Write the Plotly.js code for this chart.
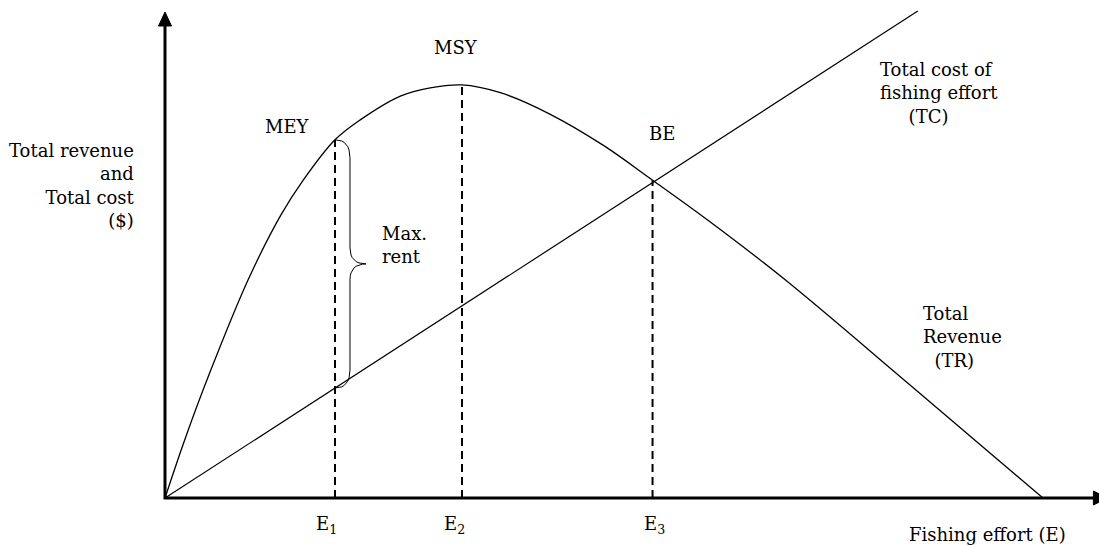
<!DOCTYPE html>
<html>
<head>
<meta charset="utf-8">
<script src="https://cdn.plot.ly/plotly-3.0.1.min.js"></script>
<style>
  html, body { margin: 0; padding: 0; background: #fff; }
  #chart { width: 1099px; height: 546px; }
</style>
</head>
<body>
<div id="chart"></div>
<script>
// Total revenue curve, effort and $ in 0-100 units
let effort = [0, 2.1, 4.8, 8.9, 12.4, 14.8, 18.2, 20.9, 25.2, 28.4, 31.8, 35.9, 41.2, 46.9, 52.2, 58.1, 66.4, 79.8, 94.0];
let revenue = [0, 11.9, 25.8, 44.9, 58.2, 65.4, 73.7, 77.8, 82.7, 84.4, 85.0, 83.4, 79.0, 72.6, 65.4, 57.2, 44.9, 23.2, 0];

// Total cost line
let costEffort = [0, 80.6];
let cost = [0, 100.2];

// Effort levels marked on the x axis: MEY, MSY, BE
let markEffort = [18.2, 31.8, 52.2];
let markLabels = ['E<sub>1</sub>', 'E<sub>2</sub>', 'E<sub>3</sub>'];
let markShift = [-8, -8, 2];

var W = 1099, H = 546;
var FONT = { family: 'DejaVu Serif, Georgia, serif', size: 18, color: '#000' };
// pixels per unit on each axis; origin sits at (165, 498) px
var PX_X = 934 / 100, PX_Y = 486 / 100;
var ORIGIN_X = 165, ORIGIN_Y = 498;

function revenueAt(e) {
    return revenue[effort.indexOf(e)];
}
function costAt(e) {
    return cost[0] + (cost[1] - cost[0]) * (e - costEffort[0]) / (costEffort[1] - costEffort[0]);
}

// sample a quadratic bezier into xs/ys
function quad(xs, ys, p0, p1, p2) {
    for (let t = 0; t <= 1.0001; t += 0.125) {
        let a = (1 - t) * (1 - t), b = 2 * (1 - t) * t, c = t * t;
        xs.push(a * p0[0] + b * p1[0] + c * p2[0]);
        ys.push(a * p0[1] + b * p1[1] + c * p2[1]);
    }
}

var data = [];

// Revenue curve
data.push({
    x: effort,
    y: revenue,
    mode: 'lines',
    type: 'scatter',
    line: { color: '#000', width: 1.3, shape: 'spline', smoothing: 1 },
    hoverinfo: 'skip'
});

// Cost line
data.push({
    x: costEffort,
    y: cost,
    mode: 'lines',
    type: 'scatter',
    line: { color: '#000', width: 1.2 },
    hoverinfo: 'skip'
});

// Dashed drop lines
markEffort.forEach(function (e) {
    data.push({
        x: [e, e],
        y: [0, revenueAt(e)],
        mode: 'lines',
        type: 'scatter',
        line: { color: '#000', width: 2, dash: '8px,5px' },
        hoverinfo: 'skip'
    });
});

// Brace for the maximum rent, between TR and TC at E1
var e1 = markEffort[0];
var yTop = revenueAt(e1);
var yBot = costAt(e1);
var yMid = (yTop + yBot) / 2;
var bx = e1 + 15 / PX_X, tx = e1 + 31 / PX_X;
var r = 18 / PX_Y, rt = 16 / PX_Y;
var braceX = [], braceY = [];
quad(braceX, braceY, [e1, yTop], [bx, yTop], [bx, yTop - r]);
quad(braceX, braceY, [bx, yMid + rt], [bx, yMid], [tx, yMid]);
quad(braceX, braceY, [tx, yMid], [bx, yMid], [bx, yMid - rt]);
quad(braceX, braceY, [bx, yBot + r], [bx, yBot], [e1, yBot]);
data.push({
    x: braceX,
    y: braceY,
    mode: 'lines',
    type: 'scatter',
    line: { color: '#000', width: 1 },
    hoverinfo: 'skip'
});

// Axes with arrow heads
var yTip = (ORIGIN_Y - 12) / PX_Y;
var xEnd = 99.4;
data.push({
    x: [0, 0, xEnd],
    y: [yTip - 14 / PX_Y, 0, 0],
    mode: 'lines',
    type: 'scatter',
    line: { color: '#000', width: 3 },
    hoverinfo: 'skip'
});
data.push({
    x: [-6.5 / PX_X, 6.5 / PX_X, 0, -6.5 / PX_X],
    y: [yTip - 14 / PX_Y, yTip - 14 / PX_Y, yTip, yTip - 14 / PX_Y],
    mode: 'lines',
    type: 'scatter',
    fill: 'toself',
    fillcolor: '#000',
    line: { color: '#000', width: 1 },
    hoverinfo: 'skip'
});
data.push({
    x: [xEnd, xEnd, xEnd + 14 / PX_X, xEnd],
    y: [-7 / PX_Y, 7 / PX_Y, 0, -7 / PX_Y],
    mode: 'lines',
    type: 'scatter',
    fill: 'toself',
    fillcolor: '#000',
    line: { color: '#000', width: 1 },
    hoverinfo: 'skip'
});

var annotations = [
    { x: -3.0, y: 64.4, xanchor: 'right', align: 'right',
      text: 'Total revenue<br>and<br>Total cost<br>($)' },
    { x: 13.1, y: 76.5, text: 'MEY' },
    { x: 31.2, y: 92.6, text: 'MSY' },
    { x: 53.2, y: 75.1, text: 'BE' },
    { x: 23.0, y: 52.1, xanchor: 'left', align: 'left', text: 'Max.<br>rent' },
    { x: 76.3, y: 83.3, xanchor: 'left', align: 'left',
      text: 'Total cost of<br>fishing effort<br>&nbsp;&nbsp;&nbsp;&nbsp;&nbsp;(TC)' },
    { x: 80.9, y: 33.1, xanchor: 'left', align: 'left',
      text: 'Total<br>Revenue<br>&nbsp;&nbsp;(TR)' },
    { x: 88.1, y: -7.6, text: 'Fishing effort (E)' }
];
markEffort.forEach(function (e, i) {
    annotations.push({ x: e, y: -5.6, xshift: markShift[i], text: markLabels[i] });
});
annotations.forEach(function (a) {
    a.xref = 'x';
    a.yref = 'y';
    a.showarrow = false;
    a.font = FONT;
});

var layout = {
    width: W,
    height: H,
    margin: { l: 0, r: 0, t: 0, b: 0 },
    showlegend: false,
    paper_bgcolor: '#fff',
    plot_bgcolor: '#fff',
    xaxis: {
        domain: [0, 1],
        range: [-ORIGIN_X / PX_X, (W - ORIGIN_X) / PX_X],
        visible: false,
        fixedrange: true
    },
    yaxis: {
        domain: [0, 1],
        range: [-(H - ORIGIN_Y) / PX_Y, ORIGIN_Y / PX_Y],
        visible: false,
        fixedrange: true
    },
    annotations: annotations
};

Plotly.newPlot('chart', data, layout, { displayModeBar: false, staticPlot: true });
</script>
</body>
</html>
